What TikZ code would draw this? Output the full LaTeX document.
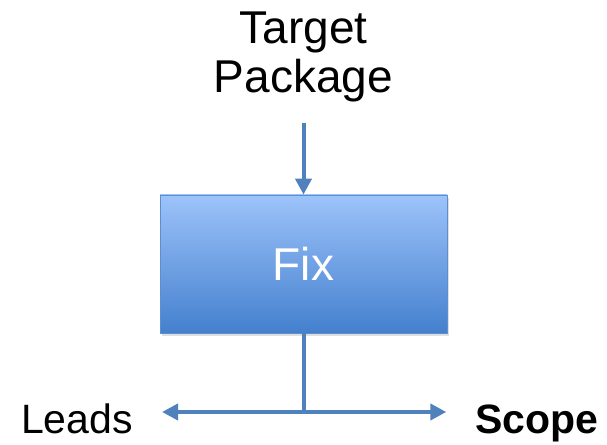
\documentclass[tikz,border=0pt]{standalone}
\usepackage{fontspec}
\setmainfont{Liberation Sans}
\usetikzlibrary{positioning, arrows.meta, shadows}

\definecolor{arrowblue}{RGB}{79,129,189}
\definecolor{boxtop}{RGB}{157,195,250}
\definecolor{boxbottom}{RGB}{68,128,206}
\definecolor{boxline}{RGB}{92,142,208}

\begin{document}
\begin{tikzpicture}[
  x=1pt, y=1pt,
  >={Triangle[length=16pt, width=16pt]},
  big/.style={font=\fontsize{46}{49.5}\selectfont, inner sep=0pt, align=center},
  side/.style={font=\fontsize{41}{45}\selectfont, inner sep=0pt, anchor=base},
  fixbox/.style={draw=boxline, line width=0.8pt, top color=boxtop, bottom color=boxbottom,
                 minimum width=287pt, minimum height=138pt, text=white,
                 drop shadow={opacity=0.25, shadow xshift=1.5pt, shadow yshift=-3pt}},
  arr/.style={->, line width=4pt, draw=arrowblue},
  stem/.style={line width=4pt, draw=arrowblue, line cap=rect}
]
\useasboundingbox (0,0) rectangle (607,444);

\node[fixbox, big] (fix) at (303.5,180) {Fix};
\node[big, above=92pt of fix] (pkg) {Target\\Package};
\coordinate (split) at (303.5,32);
\node[side] (leads) at (77,11) {Leads};
\node[side, font=\fontsize{41}{45}\selectfont\bfseries] (scope) at (537,11) {Scope};

\draw[arr, shorten <=20pt] (pkg) -- (fix);
\draw[stem] (fix.south) -- (split);
\draw[arr, shorten >=29pt] (split) -- (leads.east |- split);
\draw[arr, shorten >=29pt] (split) -- (scope.west |- split);
\end{tikzpicture}
\end{document}
